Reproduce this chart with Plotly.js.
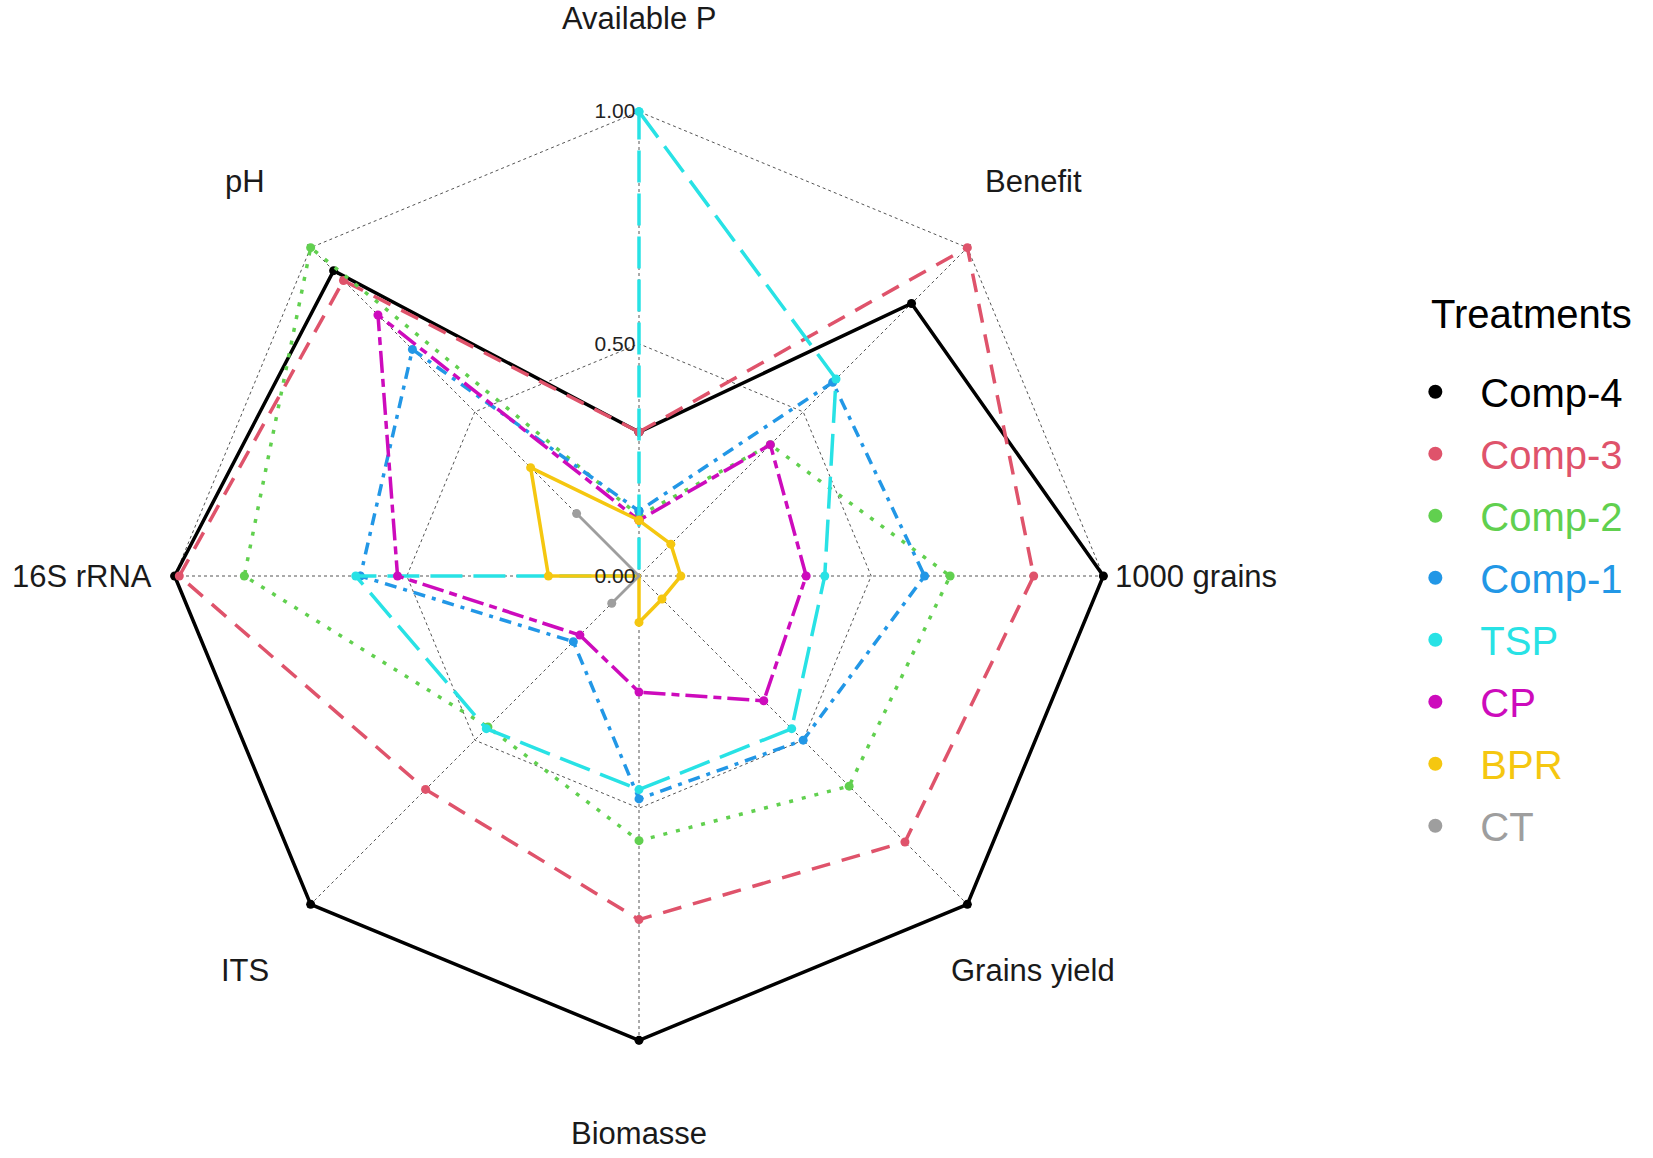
<!DOCTYPE html>
<html>
<head>
<meta charset="utf-8">
<script src="https://cdn.plot.ly/plotly-3.0.1.min.js"></script>
<style>
html,body{margin:0;padding:0;background:#fff;}
#chart{width:1653px;height:1158px;}
</style>
</head>
<body>
<div id="chart"></div>
<script>
// ---- data ----
const categories = ["Available P","Benefit","1000 grains","Grains yield","Biomasse","ITS","16S rRNA","pH"];
const treatments = ["Comp-4","Comp-3","Comp-2","Comp-1","TSP","CP","BPR","CT"];
const comp4 = [0.31, 0.83, 1.00, 1.00, 1.00, 1.00, 1.00, 0.93];
const comp3 = [0.31, 1.00, 0.85, 0.81, 0.74, 0.65, 0.99, 0.90];
const comp2 = [0.13, 0.40, 0.67, 0.64, 0.57, 0.46, 0.85, 1.00];
const comp1 = [0.14, 0.59, 0.615, 0.50, 0.48, 0.20, 0.60, 0.69];
const tsp   = [1.00, 0.60, 0.40, 0.465, 0.46, 0.465, 0.61, 0.00];
const cp    = [0.12, 0.40, 0.36, 0.38, 0.25, 0.18, 0.52, 0.795];
const bpr   = [0.12, 0.097, 0.09, 0.07, 0.10, 0.00, 0.195, 0.33];
const ct    = [0.00, 0.00, 0.00, 0.00, 0.00, 0.083, 0.00, 0.19];
const radialTickVals = [0, 0.5, 1];
const radialTickText = ["0.00", "0.50", "1.00"];
const legendTitle = "Treatments";

// ---- styles / geometry ----
const rangeMax = 1.01;
const labelRadius = 1.2;
const seriesValues = [comp4, comp3, comp2, comp1, tsp, cp, bpr, ct];
const colors = ["#000000","#DF536B","#61D04F","#2297E6","#28E2E5","#CD0BBC","#F5C710","#9E9E9E"];
const dashes = ["solid","19px,12px","4px,9px","4px,7px,12px,7px","32px,11px","8px,6px,22px,6px","solid","solid"];
const widths = [3.5,3.5,3.5,3.5,3.5,3.5,3.5,2.8];

const font = "Liberation Sans, Arial, sans-serif";
const traces = [];
seriesValues.forEach((vals, i) => {
  traces.push({
    type: "scatterpolar",
    mode: "lines+markers",
    r: vals.concat([vals[0]]),
    theta: categories.concat([categories[0]]),
    line: {color: colors[i], width: widths[i], dash: dashes[i]},
    marker: {color: colors[i], size: 9},
    cliponaxis: false,
    showlegend: false,
    hoverinfo: "skip"
  });
});
// legend entries (dots only)
treatments.forEach((name, i) => {
  traces.push({
    type: "scatterpolar",
    mode: "markers",
    r: [null],
    theta: [categories[0]],
    name: '<span style="color:' + colors[i] + '">' + name + '</span>',
    marker: {color: colors[i], size: 14},
    legendgroup: "g" + i,
    showlegend: true
  });
});

// category labels placed around the polar domain (domain centre 0.5,0.5; radius 0.5)
const annotations = categories.map((c, i) => {
  const ang = (90 - 360 * i / categories.length) * Math.PI / 180;
  const f = 0.5 * labelRadius / rangeMax;
  return {
    xref: "paper", yref: "paper",
    x: 0.5 + f * Math.cos(ang),
    y: 0.5 + f * Math.sin(ang),
    xanchor: "center", yanchor: "middle",
    text: c, showarrow: false,
    font: {family: font, size: 31, color: "#1a1a1a"}
  };
});
annotations.push({
  xref: "paper", yref: "paper",
  x: 1.342, y: 0.7796, xanchor: "left", yanchor: "middle",
  text: legendTitle, showarrow: false,
  font: {family: font, size: 40, color: "#000"}
});

const layout = {
  width: 1653,
  height: 1158,
  paper_bgcolor: "#ffffff",
  plot_bgcolor: "#ffffff",
  margin: {l: 170.4, r: 545.3, t: 107.4, b: 113.3},
  font: {family: font, color: "#000"},
  polar: {
    domain: {x: [0, 1], y: [0, 1]},
    bgcolor: "#ffffff",
    gridshape: "linear",
    radialaxis: {
      range: [0, rangeMax],
      angle: 90,
      side: "counterclockwise",
      tickangle: 90,
      tickvals: radialTickVals,
      ticktext: radialTickText,
      tickfont: {family: font, size: 21, color: "#222"},
      showline: false,
      ticks: "",
      gridcolor: "#555",
      gridwidth: 1,
      griddash: "dot"
    },
    angularaxis: {
      type: "category",
      categoryarray: categories,
      direction: "clockwise",
      rotation: 90,
      showticklabels: false,
      ticks: "",
      showline: false,
      gridcolor: "#555",
      gridwidth: 1,
      griddash: "dot"
    }
  },
  annotations: annotations,
  showlegend: true,
  legend: {
    x: 1.301, xanchor: "left",
    y: 0.731, yanchor: "top",
    font: {family: font, size: 40},
    itemwidth: 80,
    tracegroupgap: 7,
    bgcolor: "rgba(0,0,0,0)"
  }
};

Plotly.newPlot("chart", traces, layout, {displayModeBar: false, staticPlot: true});
</script>
</body>
</html>
